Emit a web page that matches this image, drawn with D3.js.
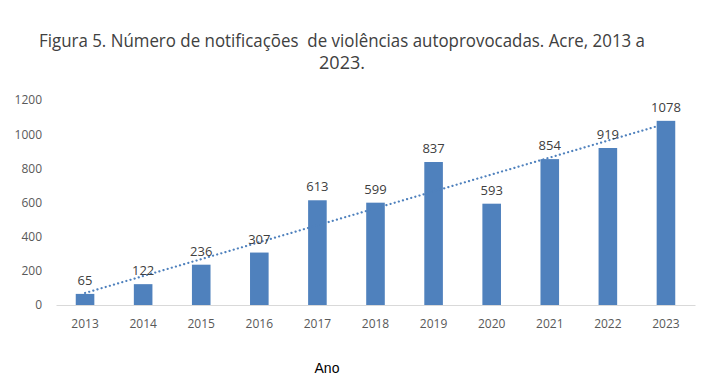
<!DOCTYPE html>
<html><head><meta charset="utf-8">
<script src="https://cdn.jsdelivr.net/npm/d3@7"></script>
<style>body{margin:0;background:#fff}svg{display:block}</style>
</head><body>
<svg id="c" width="710" height="392"></svg>
<script>
const years = ["2013","2014","2015","2016","2017","2018","2019","2020","2021","2022","2023"];
const values = [65,122,236,307,613,599,837,593,854,919,1078];
const yTicks = [0,200,400,600,800,1000,1200];
const titleLines = ["Figura 5. Número de notificações  de violências autoprovocadas. Acre, 2013 a","2023."];
const xTitle = "Ano";

(function(){
const svg = d3.select("#c");
const pLeft = 56, pRight = 695, pTop = 100, pBottom = 305;
const x = d3.scaleBand().domain(years).range([pLeft, pRight]).paddingInner(0.68).paddingOuter(0.34);
const y = d3.scaleLinear().domain([0,1200]).range([pBottom, pTop]);

// title
svg.selectAll("text.title").data(titleLines).enter().append("text")
  .attr("x", 342).attr("y", (d,i)=>47+i*22)
  .attr("text-anchor","middle").attr("font-family","'Open Sans', sans-serif")
  .attr("font-size",17.5).attr("fill","#404040")
  .style("white-space","pre")
  .attr("textLength",(d,i)=> i===0 ? 606 : 46).attr("lengthAdjust","spacingAndGlyphs")
  .text(d=>d);

// y axis labels
const yAxis = d3.axisLeft(y).tickValues(yTicks).tickFormat(d3.format("d")).tickSize(0).tickPadding(0);
const gy = svg.append("g").attr("transform","translate(42,0)").call(yAxis);
gy.select(".domain").remove();
gy.selectAll("text").attr("font-family","'Open Sans', sans-serif").attr("font-size",12).attr("fill","#595959");

// bars
svg.selectAll("rect.bar").data(values).enter().append("rect")
  .attr("x",(d,i)=>x(years[i])).attr("width",x.bandwidth())
  .attr("y",d=>y(d)).attr("height",d=>pBottom-y(d)).attr("fill","#4F81BD");

// x axis
const xAxis = d3.axisBottom(x).tickSize(0).tickPadding(14);
const gx = svg.append("g").attr("transform",`translate(0,${pBottom})`).call(xAxis);
gx.select(".domain").attr("stroke","#d9d9d9").attr("stroke-width",1.2);
gx.selectAll("text").attr("font-family","'Open Sans', sans-serif").attr("font-size",12).attr("fill","#595959");

// trendline (linear regression)
const n = values.length, xm = (n-1)/2, ym = d3.mean(values);
let sxy=0,sxx=0; values.forEach((v,i)=>{sxy+=(i-xm)*(v-ym);sxx+=(i-xm)*(i-xm);});
const slope = sxy/sxx, icpt = ym - slope*xm;
const cx = i => x(years[i]) + x.bandwidth()/2;
svg.append("line")
  .attr("x1",cx(0)).attr("y1",y(icpt))
  .attr("x2",cx(n-1)).attr("y2",y(icpt+slope*(n-1)))
  .attr("stroke","#4F81BD").attr("stroke-width",2.2)
  .attr("stroke-dasharray","0.1 4.2").attr("stroke-linecap","round");

// value labels
svg.selectAll("text.val").data(values).enter().append("text")
  .attr("x",(d,i)=>cx(i)).attr("y",d=>y(d)-9)
  .attr("text-anchor","middle").attr("font-family","'Open Sans', sans-serif")
  .attr("font-size",13).attr("fill","#404040").text(d=>d);

// x title
svg.append("text").attr("x",327).attr("y",373).attr("text-anchor","middle")
  .attr("font-family","'Liberation Sans', Arial, sans-serif").attr("font-size",14).attr("fill","#000")
  .text(xTitle);
})();
</script>
</body></html>
